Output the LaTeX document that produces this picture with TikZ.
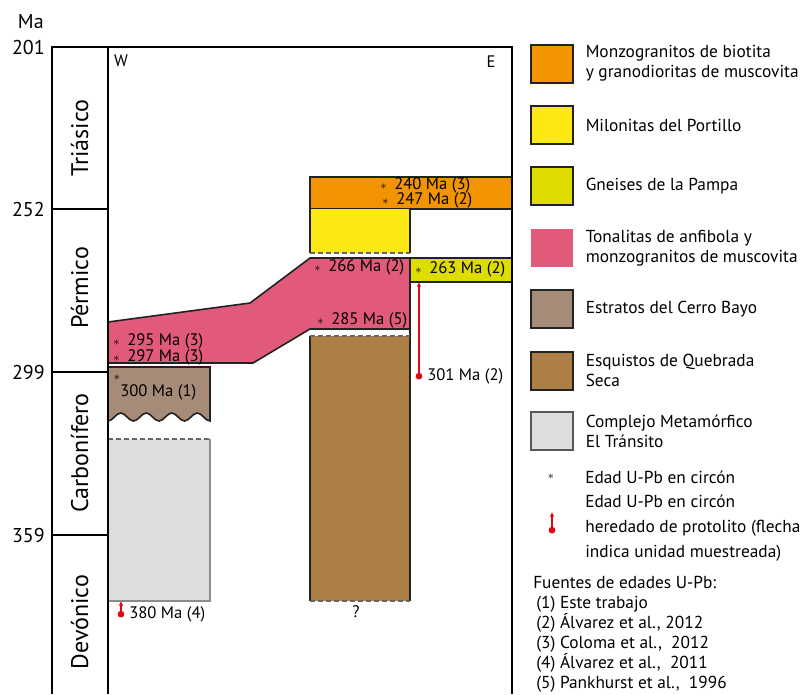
\documentclass[tikz,border=0pt]{standalone}
\usepackage{fontspec}
\setmainfont{PT Sans}
\usetikzlibrary{positioning,arrows.meta}
\definecolor{naranja}{HTML}{F29400}
\definecolor{amarillo}{HTML}{FCE913}
\definecolor{gneis}{HTML}{DEDC00}
\definecolor{rosa}{HTML}{E15A7A}
\definecolor{estratos}{HTML}{A68B78}
\definecolor{esquisto}{HTML}{AE7E47}
\definecolor{grisclaro}{HTML}{DCDDDF}
\definecolor{rojo}{HTML}{E30613}
\definecolor{borde}{HTML}{222222}
\newcommand{\est}{\makebox[10.5pt][l]{\fontsize{9}{9}\selectfont$\ast$}}
\begin{document}
\begin{tikzpicture}[x=0.75pt,y=-0.75pt,
    unidad/.style={draw=borde,line width=1.2pt},
    corte/.style={draw=black!60,line width=1.2pt,dash pattern=on 4pt off 2pt},
    edad/.style={font=\fontsize{12.5}{14}\selectfont,inner sep=0pt,anchor=west},
    escala/.style={font=\fontsize{15}{17}\selectfont,inner sep=0pt,anchor=east},
    periodo/.style={font=\fontsize{18}{20}\selectfont,inner sep=0pt,rotate=90,anchor=base},
    heredado/.style={draw=rojo,line width=0.8pt,{Circle[length=5pt]}-{Latex[length=3.5pt,width=3.5pt]}},
    leyenda/.style={draw=borde,line width=1.5pt,minimum width=31.5pt,minimum height=28.5pt,inner sep=0pt},
    texto/.style={font=\fontsize{13}{15}\selectfont,align=left,inner sep=0pt}]
  \useasboundingbox (0,0) rectangle (807,694);

  \node[escala] (ma) at (44,22) {Ma};
  \foreach \y/\t in {47/201,209/252,372/299,535/359}
    \node[escala] (m\t) at (45,\y) {\t};
  \foreach \y in {209,372,535}
    \draw[line width=1.2pt] (52,\y) -- (108,\y);
  \node[periodo] (tri) at (88,138) {Triásico};
  \node[periodo] (per) at (88,288) {Pérmico};
  \node[periodo] (car) at (88,453) {Carbonífero};
  \node[periodo] (dev) at (88,622) {Devónico};
  \node[edad,anchor=center] (w) at (121,61) {W};
  \node[edad,anchor=center] (e) at (491,62) {E};

  \filldraw[unidad,fill=naranja] (310,177) rectangle (512,209);
  \fill[amarillo] (310,209) rectangle (410,253);
  \draw[unidad] (310,209) -- (310,253) (410,209) -- (410,253);
  \draw[corte] (310,253) -- (410,253);
  \filldraw[unidad,fill=rosa] (108,322) -- (250,303) -- (310,258) -- (410,258) -- (410,329)
    -- (310,329) -- (253,363) -- (108,363) -- cycle;
  \filldraw[unidad,fill=gneis] (410,258) rectangle (512,282);
  \fill[esquisto] (310,336) rectangle (410,601);
  \draw[unidad] (310,336) -- (310,601) (410,329) -- (410,601);
  \draw[corte] (310,336) -- (410,336) (310,601) -- (410,601);
  \filldraw[unidad,fill=estratos] (108,367) -- (210,367) -- (210,421)
    cos (203.6,417) sin (197.3,413) cos (190.9,417) sin (184.5,421)
    cos (178.1,417) sin (171.8,413) cos (165.4,417) sin (159,421)
    cos (152.6,417) sin (146.3,413) cos (139.9,417) sin (133.5,421)
    cos (127.1,417) sin (120.8,413) cos (114.4,417) sin (108,421) -- cycle;
  \fill[grisclaro] (108,439) rectangle (210,601);
  \draw[line width=1.2pt,draw=black!45] (210,439) -- (210,601) -- (108,601);
  \draw[corte] (108,439) -- (210,439);

  \draw[line width=1.3pt] (52,694) -- (52,47) -- (512,47) -- (512,694);
  \draw[line width=1.3pt] (108,47) -- (108,694);

  \node[edad] (a240) at (380,185) {\est 240 Ma (3)};
  \node[edad] (a247) at (382,200) {\est 247 Ma (2)};
  \node[edad] (a266) at (314,267) {\est 266 Ma (2)};
  \node[edad] (a285) at (317,320) {\est 285 Ma (5)};
  \node[edad] (a263) at (415,269) {\est 263 Ma (2)};
  \node[edad] (a295) at (113,341) {\est 295 Ma (3)};
  \node[edad] (a297) at (113,357) {\est 297 Ma (3)};
  \node[inner sep=0pt,font=\fontsize{9}{9}\selectfont] (s300) at (117,378) {$\ast$};
  \node[edad] (a300) at (120,392) {300 Ma (1)};
  \node[edad] (a301) at (427,376) {301 Ma (2)};
  \node[edad] (a380) at (129,614) {380 Ma (4)};
  \node[edad,anchor=center] (q) at (356,612) {?};

  \coordinate (p301) at (419,379.5);
  \coordinate (b301) at (419,282);
  \draw[heredado] (p301) -- (b301);
  \coordinate (p380) at (121,617.5);
  \coordinate (b380) at (121,601);
  \draw[heredado] (p380) -- (b380);

  \node[leyenda,fill=naranja] (l1) at (551.5,63.5) {};
  \node[texto,right=9pt of l1] (t1) {Monzogranitos de biotita\\y granodioritas de muscovita};
  \node[leyenda,fill=amarillo] (l2) at (551.5,125) {};
  \node[texto,right=9pt of l2] (t2) {Milonitas del Portillo};
  \node[leyenda,fill=gneis] (l3) at (551.5,186) {};
  \node[texto,right=9pt of l3] (t3) {Gneises de la Pampa};
  \node[leyenda,fill=rosa,draw=none] (l4) at (551.5,248) {};
  \node[texto,right=9pt of l4] (t4) {Tonalitas de anfibola y\\monzogranitos de muscovita};
  \node[leyenda,fill=estratos] (l5) at (551.5,309) {};
  \node[texto,right=9pt of l5] (t5) {Estratos del Cerro Bayo};
  \node[leyenda,fill=esquisto] (l6) at (551.5,370.5) {};
  \node[texto,right=9pt of l6] (t6) {Esquistos de Quebrada\\Seca};
  \node[leyenda,fill=grisclaro,draw=black!65] (l7) at (551.5,431) {};
  \node[texto,right=9pt of l7] (t7) {Complejo Metamórfico\\El Tránsito};

  \node[inner sep=0pt,font=\fontsize{9}{9}\selectfont] (s8) at (551,477) {$\ast$};
  \node[texto,anchor=west] (t8) at (585,477) {Edad U-Pb en circón};
  \coordinate (p9) at (552,533.5);
  \coordinate (b9) at (552,512);
  \draw[heredado] (p9) -- (b9);
  \node[texto,anchor=west,font=\fontsize{13}{18.5}\selectfont] (t9) at (585,528)
    {Edad U-Pb en circón\\heredado de protolito (flecha\\indica unidad muestreada)};

  \node[texto,anchor=base west] (f0) at (533,588) {Fuentes de edades U-Pb:};
  \foreach \t [count=\n] in {{(1) Este trabajo},{(2) Álvarez et al., 2012},
      {(3) Coloma et al., \ 2012},{(4) Álvarez et al., \ 2011},{(5) Pankhurst et al., \ 1996}}
    \node[texto,anchor=base west] (f\n) at (536,{588+20*\n}) {\t};
\end{tikzpicture}
\end{document}
